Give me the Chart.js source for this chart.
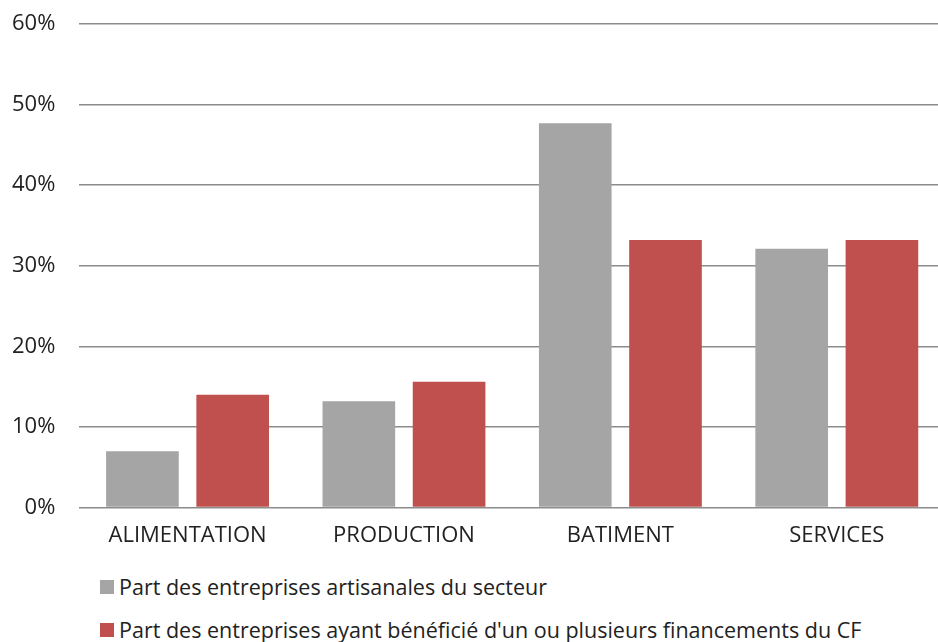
<!DOCTYPE html>
<html>
<head>
<meta charset="utf-8">
<script src="https://cdn.jsdelivr.net/npm/chart.js@4"></script>
<style>
  html, body { margin: 0; padding: 0; background: #fff; overflow: hidden; }
  #wrap { position: relative; width: 938px; height: 642px; overflow: hidden; }
  /* plot area runs a little past the right edge in the original */
  #chart-box { position: absolute; left: 0; top: 0; width: 945px; height: 564px; }
  #legend { position: absolute; left: 100px; top: 565px; font-family: "Open Sans", sans-serif; font-size: 21.5px; color: #222; }
  #legend div { height: 43px; display: flex; align-items: center; }
  #legend span.box { display: inline-block; width: 14px; height: 14px; margin-right: 5px; }
</style>
</head>
<body>
<div id="wrap">
  <div id="chart-box"><canvas id="myChart"></canvas></div>
  <div id="legend"></div>
</div>
<script>
  const categories = ['ALIMENTATION', 'PRODUCTION', 'BATIMENT', 'SERVICES'];
  const seriesNames = [
    'Part des entreprises artisanales du secteur',
    "Part des entreprises ayant bénéficié d'un ou plusieurs financements du CF"
  ];
  const partSecteur = [7.0, 13.2, 47.7, 32.1];
  const partFinances = [14.0, 15.6, 33.2, 33.2];
  const yTicks = [0, 10, 20, 30, 40, 50, 60];

  const colors = ['#A5A5A5', '#C0504D'];

  const ctx = document.getElementById('myChart').getContext('2d');
  const myChart = new Chart(ctx, {
    type: 'bar',
    data: {
      labels: categories,
      datasets: [
        { label: seriesNames[0], data: partSecteur, backgroundColor: colors[0] },
        { label: seriesNames[1], data: partFinances, backgroundColor: colors[1] },
      ],
    },
    options: {
      responsive: true,
      maintainAspectRatio: false,
      animation: false,
      layout: { padding: { left: -12, top: 0, right: 0, bottom: 0 } },
      categoryPercentage: 0.834,
      barPercentage: 0.805,
      plugins: {
        legend: { display: false },
        tooltip: { enabled: false },
      },
      scales: {
        x: {
          grid: { display: false, drawTicks: false },
          border: { display: false },
          ticks: {
            color: '#222',
            padding: 15,
            font: { family: 'Open Sans', size: 22 },
          },
        },
        y: {
          min: yTicks[0],
          max: yTicks[yTicks.length - 1],
          afterBuildTicks: (axis) => {
            axis.ticks = yTicks.map((v) => ({ value: v }));
          },
          // tick padding also pads the top, keep the 60% line close to the edge
          afterFit: (axis) => {
            axis.paddingTop = 24;
          },
          border: { display: false },
          grid: { color: '#8C8C8C', lineWidth: 1.5, drawTicks: false },
          ticks: {
            color: '#222',
            padding: 24,
            font: { family: 'Open Sans', size: 22 },
            callback: (v) => v + '%',
          },
        },
      },
    },
  });

  // legend in two rows, like the original
  const legend = document.getElementById('legend');
  seriesNames.forEach((name, i) => {
    const row = document.createElement('div');
    const box = document.createElement('span');
    box.className = 'box';
    box.style.background = colors[i];
    row.appendChild(box);
    row.appendChild(document.createTextNode(name));
    legend.appendChild(row);
  });
</script>
</body>
</html>
